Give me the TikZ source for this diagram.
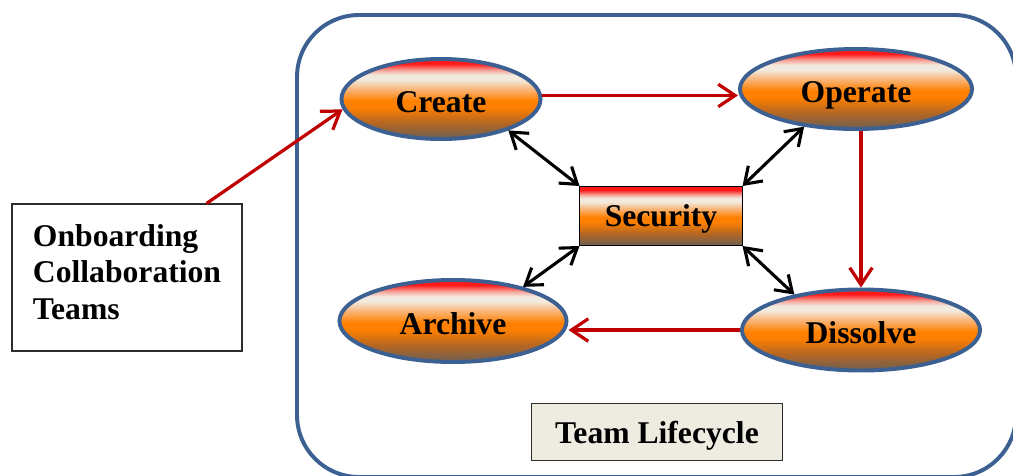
\documentclass[tikz,border=0pt]{standalone}
\usepackage{fontspec}
\setmainfont{Liberation Serif}
\usetikzlibrary{shapes.geometric,arrows.meta}

\definecolor{lcblue}{RGB}{59,96,145}
\definecolor{lcdarkred}{RGB}{192,0,0}
\definecolor{lcframe}{RGB}{45,45,45}
\definecolor{lcpaper}{RGB}{238,236,225}
\definecolor{lcred}{RGB}{255,25,25}
\definecolor{lcpink}{RGB}{246,165,155}
\definecolor{lccream}{RGB}{242,234,222}
\definecolor{lcpeach}{RGB}{248,188,135}
\definecolor{lcorange}{RGB}{255,128,0}
\definecolor{lcbrown}{RGB}{180,102,35}
\definecolor{lcgray}{RGB}{108,96,84}
\pgfdeclareverticalshading{lcglow}{100bp}{color(0bp)=(lcgray); color(25bp)=(lcgray); color(35bp)=(lcbrown); color(45bp)=(lcorange); color(49bp)=(lcorange); color(57bp)=(lcpeach); color(62bp)=(lccream); color(65bp)=(lccream); color(68bp)=(lcpink); color(72bp)=(lcred); color(100bp)=(lcred)}

\begin{document}
\begin{tikzpicture}[x=0.025cm,y=-0.025cm,
    font=\fontsize{22.5}{26}\selectfont\bfseries,
    phase/.style={ellipse,draw=lcblue,line width=2.8pt,shading=lcglow,inner sep=0pt,text height=19.8pt,text depth=0pt},
    flow/.style={draw=lcdarkred,line width=2.3pt,-{Straight Barb[length=12pt,width=16pt]}},
    link/.style={draw=black,line width=2.2pt,{Straight Barb[length=11pt,width=15pt]}-{Straight Barb[length=11pt,width=15pt]}}]
    \useasboundingbox (0,0) rectangle (1013,475);
    % frame of the lifecycle
    \draw[lcblue,line width=2.8pt,rounded corners=1.55cm] (297,15) rectangle (1016,477);
    \node[phase,minimum width=4.975cm,minimum height=2cm] (create) at (441,99) {Create};
    \node[phase,minimum width=5.8cm,minimum height=2cm] (operate) at (856,89) {Operate};
    \node[phase,minimum width=5.675cm,minimum height=2.05cm] (archive) at (453,321) {Archive};
    \node[phase,minimum width=5.95cm,minimum height=2.025cm] (dissolve) at (861,330) {Dissolve};
    \node[draw=black,line width=0.7pt,shading=lcglow,text depth=0pt,minimum width=4.05cm,minimum height=1.475cm] (security) at (661,216) {Security};
    \node[draw=lcframe,fill=lcpaper,line width=0.9pt,text depth=0pt,minimum width=6.275cm,minimum height=1.425cm] (team) at (657,432) {Team Lifecycle};
    \node[draw=lcframe,line width=0.8pt,align=left,text width=4.7cm,inner xsep=0.525cm,text depth=60pt,minimum height=3.675cm] (onboard) at (127,277.5) {Onboarding\\Collaboration\\Teams};
    \coordinate (entry) at ([xshift=-0.9cm]onboard.north east);
    % red flow
    \draw[flow] (entry) -- (create.186);
    \draw[flow] (create.2) -- (create.2 -| operate.west);
    \draw[flow] (operate.south -| dissolve.north) -- (dissolve.north);
    \draw[flow] (dissolve.west) -- (dissolve.west -| archive.east);
    % links to security
    \draw[link] (create.-25) -- (security.north west);
    \draw[link] (operate.-144) -- (security.north east);
    \draw[link] (archive.26) -- (security.south west);
    \draw[link] (dissolve.152) -- (security.south east);
\end{tikzpicture}
\end{document}
